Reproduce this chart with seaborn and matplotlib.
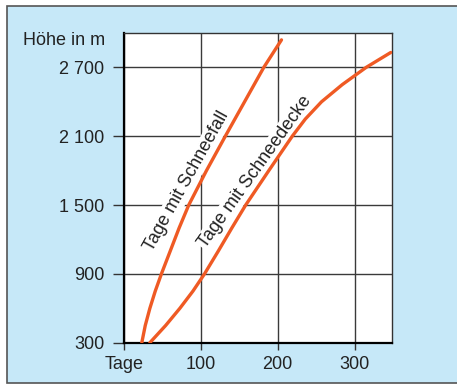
import matplotlib
matplotlib.use("Agg")
import matplotlib.pyplot as plt
import seaborn as sns
import pandas as pd
from matplotlib.patches import Rectangle

# data (days, altitude in m)
schneefall_tage = [23.5, 28, 34, 41, 49, 60.5, 72, 84.5, 107.5, 132, 157, 182, 205]
schneefall_hoehe = [300, 450, 600, 750, 900, 1100, 1300, 1500, 1800, 2100, 2400, 2700, 2940]
schneedecke_tage = [34, 54.5, 73, 90, 105, 123, 140.5, 158.5, 188.5, 219, 236, 257, 284, 315, 347]
schneedecke_hoehe = [300, 450, 600, 750, 900, 1100, 1300, 1500, 1800, 2100, 2250, 2400, 2550,
                     2700, 2830]

x_ticks = [0, 100, 200, 300]
x_labels = ["Tage", "100", "200", "300"]
y_ticks = [300, 900, 1500, 2100, 2700]
y_labels = ["300", "900", "1 500", "2 100", "2 700"]

orange = "#ef5a24"
blue_bg = "#c6e8f8"
text_col = "#222222"

sns.set_theme(style="white")
plt.rcParams["font.family"] = ["Liberation Sans", "DejaVu Sans"]

fig = plt.figure(figsize=(4.57, 3.85), dpi=100)
fig.patch.set_facecolor("white")
# blue panel with grey frame
fig.patches.append(Rectangle((7 / 457, 2 / 385), 1.2, 377 / 385, transform=fig.transFigure,
                             facecolor=blue_bg, edgecolor="#555555", linewidth=1.2, zorder=-10))

ax = fig.add_axes([0.2707, 0.1099, 0.5877, 0.8044])
ax.set_facecolor("white")

df_fall = pd.DataFrame({"tage": schneefall_tage, "hoehe": schneefall_hoehe})
df_decke = pd.DataFrame({"tage": schneedecke_tage, "hoehe": schneedecke_hoehe})
sns.lineplot(data=df_fall, x="tage", y="hoehe", ax=ax, color=orange, lw=2.4, sort=False, zorder=4)
sns.lineplot(data=df_decke, x="tage", y="hoehe", ax=ax, color=orange, lw=2.4, sort=False, zorder=4)
for line in ax.lines:
    line.set_solid_joinstyle("round")

ax.set_xlim(0, 349)
ax.set_ylim(300, 3000)
ax.set_xticks(x_ticks)
ax.set_xticklabels(x_labels)
ax.set_yticks(y_ticks)
ax.set_yticklabels(y_labels)
ax.set_xlabel("")
ax.set_ylabel("")
ax.grid(True, color="#3a3a3a", lw=1.0)
ax.set_axisbelow(True)

for side in ["left", "bottom"]:
    ax.spines[side].set_color("black")
    ax.spines[side].set_linewidth(1.6)
for side in ["top", "right"]:
    ax.spines[side].set_color("#333333")
    ax.spines[side].set_linewidth(1.0)

ax.tick_params(axis="y", direction="out", length=8, width=1.0, color="#333333",
               pad=6, labelsize=13, labelcolor=text_col, left=True)
ax.tick_params(axis="x", direction="out", length=5, width=1.0, color="#333333",
               pad=4.5, labelsize=13, labelcolor=text_col, bottom=True)

fig.text(105 / 457, 1 - 45 / 385, "Höhe in m", ha="right", va="baseline",
         fontsize=13, color=text_col)

box = dict(facecolor="white", edgecolor="none", pad=1.0)
ax.text(82.5, 1712, "Tage mit Schneefall", rotation=61, rotation_mode="anchor",
        ha="center", va="center", fontsize=13, color=text_col, bbox=box, zorder=3)
ax.text(171, 1790, "Tage mit Schneedecke", rotation=54.5, rotation_mode="anchor",
        ha="center", va="center", fontsize=13, color=text_col, bbox=box, zorder=3)

fig.savefig("out.png", dpi=100)
